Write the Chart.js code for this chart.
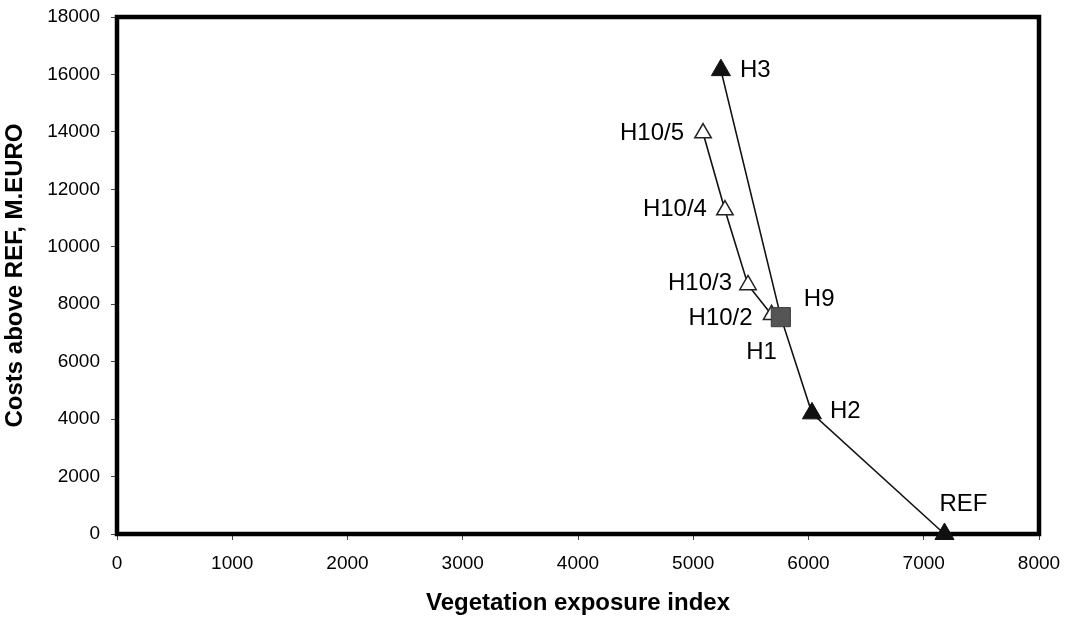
<!DOCTYPE html>
<html>
<head>
<meta charset="utf-8">
<script src="https://cdn.jsdelivr.net/npm/chart.js@4/dist/chart.umd.min.js"></script>
<style>
  html, body { margin: 0; padding: 0; background: #fff; }
  #wrap { width: 1068px; height: 622px; }
</style>
</head>
<body>
<div id="wrap"><canvas id="chart"></canvas></div>
<script>
// --- data ---
const mainLabels = ['REF', 'H2', 'H1', 'H3'];
const mainX = [7180, 6030, 5760, 5240];
const mainY = [0, 4200, 7550, 16150];

const h10Labels = ['', 'H10/2', 'H10/3', 'H10/4', 'H10/5'];
const h10X = [5760, 5680, 5475, 5275, 5085];
const h10Y = [7550, 7630, 8670, 11280, 13960];

const h9Labels = ['H9'];
const h9X = [5760];
const h9Y = [7550];

const xTicks = [0, 1000, 2000, 3000, 4000, 5000, 6000, 7000, 8000];
const yTicks = [0, 2000, 4000, 6000, 8000, 10000, 12000, 14000, 16000, 18000];

// label placement (pixels from the point): dx, dy, align
const labelPos = {
  'REF':   [19, -30, 'center'],
  'H2':    [18, -2, 'left'],
  'H1':    [-4, 35, 'right'],
  'H3':    [19, 0, 'left'],
  'H10/2': [-19, 4, 'right'],
  'H10/3': [-16, -2, 'right'],
  'H10/4': [-18, -1, 'right'],
  'H10/5': [-19, 0, 'right'],
  'H9':    [23, -18, 'left']
};

const FONT = "'Liberation Sans', Arial, sans-serif";

function pts(xs, ys, names) {
  return xs.map((x, i) => ({x: x, y: ys[i], name: names[i]}));
}

const frame = {
  id: 'frame',
  beforeDatasetsDraw(chart) {
    const a = chart.chartArea, ctx = chart.ctx;
    ctx.save();
    ctx.strokeStyle = '#000';
    ctx.lineWidth = 4.5;
    ctx.strokeRect(a.left, a.top, a.right - a.left, a.bottom - a.top);
    ctx.restore();
  }
};

const pointNames = {
  id: 'pointNames',
  afterDatasetsDraw(chart) {
    const ctx = chart.ctx;
    ctx.save();
    ctx.font = '24px ' + FONT;
    ctx.fillStyle = '#000';
    ctx.textBaseline = 'middle';
    chart.data.datasets.forEach((ds, di) => {
      const meta = chart.getDatasetMeta(di);
      ds.data.forEach((p, i) => {
        if (!p.name || !labelPos[p.name]) return;
        const [dx, dy, al] = labelPos[p.name];
        const el = meta.data[i];
        ctx.textAlign = al;
        ctx.fillText(p.name, el.x + dx, el.y + dy);
      });
    });
    ctx.restore();
  }
};

new Chart(document.getElementById('chart'), {
  type: 'scatter',
  data: {
    datasets: [
      {
        data: pts(h9X, h9Y, h9Labels),
        pointStyle: 'rect',
        pointRadius: 13.5,
        pointBackgroundColor: '#555555',
        pointBorderColor: '#3a3a3a',
        pointBorderWidth: 1,
        showLine: false,
        clip: false
      },
      {
        data: pts(mainX, mainY, mainLabels),
        showLine: true,
        borderColor: '#111',
        borderWidth: 1.6,
        pointStyle: 'triangle',
        pointRadius: [11, 11, 0, 11],
        pointBackgroundColor: '#111',
        pointBorderColor: '#111',
        pointBorderWidth: 1,
        clip: false
      },
      {
        data: pts(h10X, h10Y, h10Labels),
        showLine: true,
        borderColor: '#111',
        borderWidth: 1.6,
        pointStyle: 'triangle',
        pointRadius: [0, 9.5, 9.5, 9.5, 9.5],
        pointBackgroundColor: '#fff',
        pointBorderColor: '#222',
        pointBorderWidth: 1.5,
        clip: false
      }
    ]
  },
  options: {
    responsive: true,
    maintainAspectRatio: false,
    animation: false,
    layout: {padding: {top: 17, right: 29, left: 0, bottom: 0}},
    plugins: {legend: {display: false}, tooltip: {enabled: false}},
    scales: {
      x: {
        type: 'linear',
        min: 0, max: 8000,
        afterBuildTicks: s => { s.ticks = xTicks.map(v => ({value: v})); },
        afterFit: s => { s.height = 88; s.paddingLeft = 0; s.paddingRight = 0; },
        border: {display: false},
        grid: {drawOnChartArea: false, drawTicks: true, tickLength: 6, color: '#444', lineWidth: 1},
        ticks: {color: '#000', font: {family: FONT, size: 19}, padding: 12, maxRotation: 0,
                callback: v => String(v)},
        title: {display: true, text: 'Vegetation exposure index', color: '#000',
                font: {family: FONT, size: 24, weight: 'bold'}, padding: {top: 0, bottom: 4}}
      },
      y: {
        type: 'linear',
        min: 0, max: 18000,
        afterBuildTicks: s => { s.ticks = yTicks.map(v => ({value: v})); },
        afterFit: s => { s.width = 117; s.paddingTop = 0; s.paddingBottom = 0; },
        border: {display: false},
        grid: {drawOnChartArea: false, drawTicks: true, tickLength: 6, color: '#444', lineWidth: 1},
        ticks: {color: '#000', font: {family: FONT, size: 19}, padding: 11,
                callback: v => String(v)},
        title: {display: true, text: 'Costs above REF, M.EURO', color: '#000',
                font: {family: FONT, size: 24, weight: 'bold'}, padding: {top: 1, bottom: 0}}
      }
    }
  },
  plugins: [frame, pointNames]
});
</script>
</body>
</html>
